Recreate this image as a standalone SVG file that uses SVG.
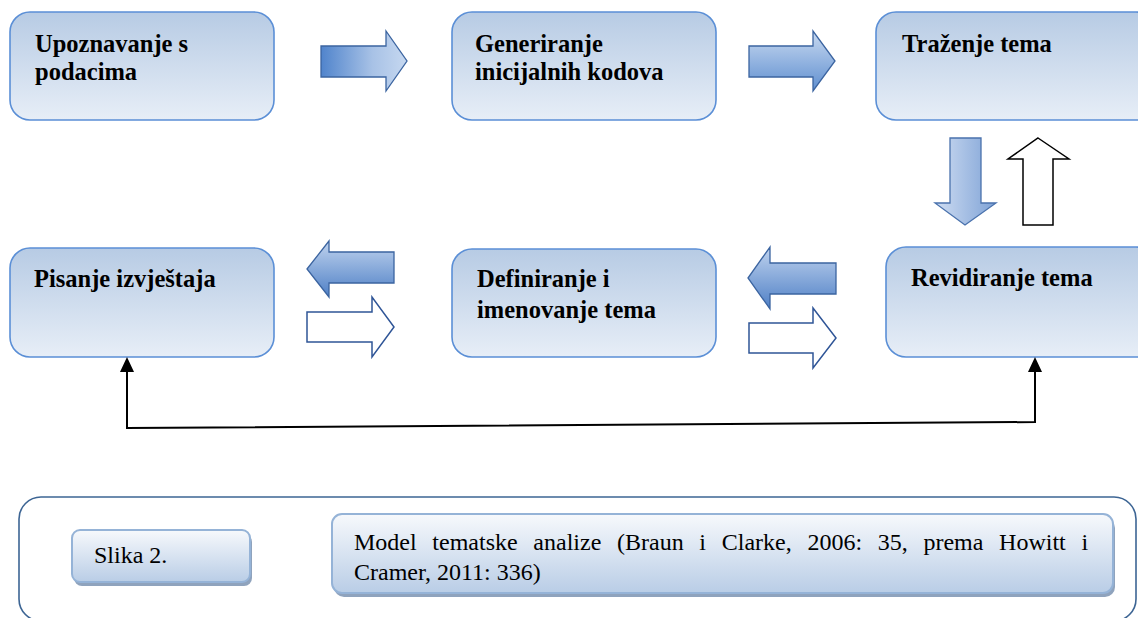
<svg xmlns="http://www.w3.org/2000/svg" width="1138" height="618" viewBox="0 0 1138 618">
<style>
.box{stroke:#5b8fd6;stroke-width:1.6;fill:url(#boxg)}
.h{font-weight:bold;font-size:24.5px;fill:#000}
.cap{font-size:24px;fill:#000}
.cbox{stroke:#95b3d7;stroke-width:2;fill:url(#capg)}
.shadow{fill:#8fa3bd}
.warrow{fill:#fff;stroke:#2f5597;stroke-width:1.5}
.conn{fill:none;stroke:#000;stroke-width:2}
</style>
<defs>
<linearGradient id="boxg" x1="0" y1="0" x2="0" y2="1">
<stop offset="0" stop-color="#b7cbe4"/>
<stop offset="1" stop-color="#e7eef7"/>
</linearGradient>
<linearGradient id="capg" x1="0" y1="0" x2="0" y2="1">
<stop offset="0" stop-color="#f7f9fc"/>
<stop offset="1" stop-color="#b9cde6"/>
</linearGradient>
<linearGradient id="ghr" x1="0" y1="0" x2="1" y2="0">
<stop offset="0" stop-color="#5084cc"/>
<stop offset="0.6" stop-color="#a8c2e6"/>
<stop offset="1" stop-color="#c6d8f0"/>
</linearGradient>
<linearGradient id="gv" x1="0" y1="0" x2="0" y2="1">
<stop offset="0" stop-color="#c8d9f0"/>
<stop offset="1" stop-color="#5f8fd0"/>
</linearGradient>
<linearGradient id="gdown" x1="0" y1="0" x2="1" y2="0">
<stop offset="0" stop-color="#cfddf2"/>
<stop offset="1" stop-color="#7ea2d6"/>
</linearGradient>
<linearGradient id="gleft" x1="0" y1="0" x2="0" y2="1">
<stop offset="0" stop-color="#c0d3ee"/>
<stop offset="1" stop-color="#4f80c6"/>
</linearGradient>
</defs>

<g id="frame">
<rect x="19" y="497" width="1117" height="124" rx="22" fill="none" stroke="#3d6594" stroke-width="1.6"/>
</g>

<g font-family="Liberation Serif, Times New Roman, DejaVu Serif, serif">
<g id="n1">
<rect class="box" x="10" y="12" width="264" height="108" rx="20"/>
<text class="h" x="35" y="52">Upoznavanje s</text>
<text class="h" x="35" y="80">podacima</text>
</g>
<g id="n2">
<rect class="box" x="452" y="12" width="264" height="108" rx="20"/>
<text class="h" x="475" y="52">Generiranje</text>
<text class="h" x="475" y="80">inicijalnih kodova</text>
</g>
<g id="n3">
<rect class="box" x="876" y="12" width="280" height="108" rx="20"/>
<text class="h" x="902" y="52">Traženje tema</text>
</g>
<g id="n4">
<rect class="box" x="10" y="248" width="264" height="109" rx="20"/>
<text class="h" x="34" y="287">Pisanje izvještaja</text>
</g>
<g id="n5">
<rect class="box" x="452" y="249" width="264" height="108" rx="20"/>
<text class="h" x="477" y="287">Definiranje i</text>
<text class="h" x="477" y="318">imenovanje tema</text>
</g>
<g id="n6">
<rect class="box" x="886" y="247" width="270" height="110" rx="20"/>
<text class="h" x="911" y="286">Revidiranje tema</text>
</g>

<g id="connectors">
<polygon points="321,46 386,46 386,31 407,61 386,91 386,77 321,77" fill="url(#ghr)" stroke="#3b64a0" stroke-width="1.3"/>
<polygon points="749,46 813,46 813,31 835,61 813,91 813,77 749,77" fill="url(#gv)" stroke="#3b64a0" stroke-width="1.3"/>
<polygon points="950,138 981,138 981,203 996,203 965,225 935,203 950,203" fill="url(#gdown)" stroke="#4a72ad" stroke-width="1.3"/>
<polygon points="1038,138 1069,159 1053,159 1053,225 1023,225 1023,159 1008,159" fill="#fff" stroke="#000" stroke-width="1.5"/>
<polygon points="307,269 329,241 329,252 394,252 394,283 329,283 329,297" fill="url(#gleft)" stroke="#3b64a0" stroke-width="1.3"/>
<polygon class="warrow" points="307,312 372,312 372,297 394,327 372,357 372,342 307,342"/>
<polygon points="748,278 770,247 770,263 836,263 836,294 770,294 770,309" fill="url(#gleft)" stroke="#3b64a0" stroke-width="1.3"/>
<polygon class="warrow" points="749,323 813,323 813,308 836,338 813,368 813,353 749,353"/>
<polyline class="conn" points="1035,370 1035,422 127,428 127,371"/>
<polygon points="1035,357 1042,372 1028,372" fill="#000"/>
<polygon points="127,357 134,372 120,372" fill="#000"/>
</g>

<g id="slika">
<rect class="shadow" x="74" y="534" width="178" height="52" rx="8"/>
<rect class="cbox" x="72" y="530" width="178" height="52" rx="8"/>
<text class="cap" x="94" y="563">Slika 2.</text>
</g>
<g id="caption">
<rect class="shadow" x="334" y="518" width="781" height="79" rx="10"/>
<rect class="cbox" x="332" y="514" width="781" height="79" rx="10"/>
<text class="cap" x="354" y="550" word-spacing="9.7">Model tematske analize (Braun i Clarke, 2006: 35, prema Howitt i</text>
<text class="cap" x="354" y="580">Cramer, 2011: 336)</text>
</g>
</g>
</svg>
